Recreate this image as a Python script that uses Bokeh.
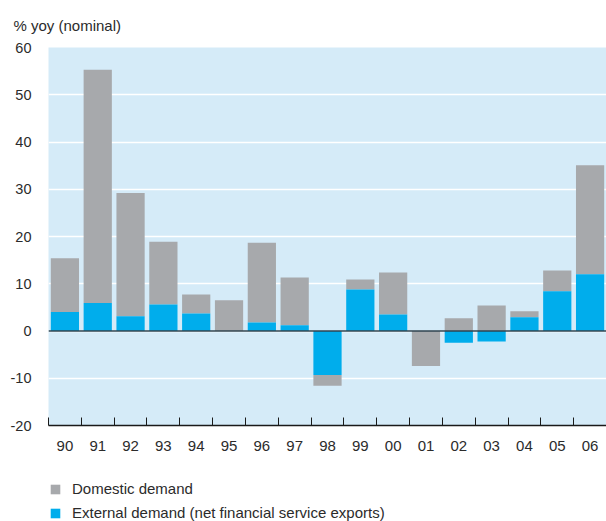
from bokeh.plotting import figure
from bokeh.layouts import column
from bokeh.models import (ColumnDataSource, Range1d, FixedTicker, Span, Legend, LegendItem)
from bokeh.embed import file_html
from bokeh.resources import INLINE

years = ["90", "91", "92", "93", "94", "95", "96", "97", "98", "99",
         "00", "01", "02", "03", "04", "05", "06"]
external = [4.0, 5.9, 3.1, 5.6, 3.7, 0.0, 1.8, 1.2, -9.3, 8.8,
            3.5, 0.0, -2.5, -2.2, 2.9, 8.4, 12.0]
domestic = [11.4, 49.4, 26.1, 13.3, 4.0, 6.5, 16.9, 10.1, -2.3, 2.1,
            8.9, -7.4, 2.7, 5.4, 1.3, 4.4, 23.1]
y_ticks = [-20, -10, 0, 10, 20, 30, 40, 50, 60]
series_names = ["Domestic demand", "External demand (net financial service exports)"]

GRAY = "#a7a9ac"
BLUE = "#00adec"
BG = "#d5ebf8"
TXT = "#2b2b2b"
FONT = "Liberation Sans"

n = len(years)
xs = [i + 0.5 for i in range(n)]
e_bot, e_top, d_bot, d_top = [], [], [], []
for e, d in zip(external, domestic):
    pos, neg = 0.0, 0.0
    e_bot.append(0.0)
    e_top.append(e)
    if e >= 0:
        pos = e
    else:
        neg = e
    if d >= 0:
        d_bot.append(pos)
        d_top.append(pos + d)
    else:
        d_bot.append(neg)
        d_top.append(neg + d)

src = ColumnDataSource(dict(x=xs, eb=e_bot, et=e_top, db=d_bot, dt=d_top))

p = figure(width=606, height=460, output_backend="svg", toolbar_location=None,
           x_range=Range1d(0, n), y_range=Range1d(-20, 60),
           min_border_left=48, min_border_right=0, min_border_top=47,
           min_border_bottom=35)
p.background_fill_color = BG
p.border_fill_color = "white"
p.outline_line_color = None

p.title.text = "% yoy (nominal)"
p.title.text_font = FONT
p.title.text_font_size = "15px"
p.title.text_font_style = "normal"
p.title.text_color = TXT
p.title.align = "left"
p.title.offset = -35
p.title.standoff = 27

# grid
p.xgrid.grid_line_color = None
p.ygrid.ticker = FixedTicker(ticks=y_ticks)
p.ygrid.grid_line_color = "white"
p.ygrid.grid_line_width = 1.6

p.vbar(x="x", bottom="db", top="dt", width=0.86, source=src,
       fill_color=GRAY, line_color=None)
p.vbar(x="x", bottom="eb", top="et", width=0.86, source=src,
       fill_color=BLUE, line_color=None)

p.add_layout(Span(location=0, dimension="width", line_color="#2f4550",
                  line_width=1.5))

# axes
p.yaxis.ticker = FixedTicker(ticks=y_ticks)
p.yaxis.major_label_overrides = {t: str(t) for t in y_ticks}
p.yaxis.axis_line_color = None
p.yaxis.major_tick_line_color = None
p.yaxis.minor_tick_line_color = None
p.yaxis.major_tick_in = 0
p.yaxis.major_tick_out = 0
p.yaxis.major_label_standoff = 17
p.yaxis.major_label_text_font = FONT
p.yaxis.major_label_text_font_size = "14.5px"
p.yaxis.major_label_text_color = TXT

p.xaxis.ticker = FixedTicker(ticks=xs, minor_ticks=list(range(n + 1)))
p.xaxis.major_label_overrides = {x: y for x, y in zip(xs, years)}
p.xaxis.axis_line_color = "#1a1a1a"
p.xaxis.axis_line_width = 1.5
p.xaxis.major_tick_line_color = None
p.xaxis.major_tick_in = 0
p.xaxis.major_tick_out = 0
p.xaxis.minor_tick_line_color = "#1a1a1a"
p.xaxis.minor_tick_line_width = 1
p.xaxis.minor_tick_in = 8
p.xaxis.minor_tick_out = 0
p.xaxis.major_label_standoff = 15
p.xaxis.major_label_text_font = FONT
p.xaxis.major_label_text_font_size = "15px"
p.xaxis.major_label_text_color = TXT

# legend strip below the chart (its renderers are hidden copies of the series)
lg = figure(width=606, height=61, output_backend="svg", toolbar_location=None,
            x_range=Range1d(0, n), y_range=Range1d(-20, 60),
            x_axis_type=None, y_axis_type=None, min_border=0)
lg.outline_line_color = None
lg.xgrid.visible = False
lg.ygrid.visible = False
k_dom = lg.vbar(x="x", bottom="db", top="dt", width=0.86, source=src,
                fill_color=GRAY, line_color=None, visible=False)
k_ext = lg.vbar(x="x", bottom="eb", top="et", width=0.86, source=src,
                fill_color=BLUE, line_color=None, visible=False)

legend = Legend(items=[LegendItem(label=series_names[0], renderers=[k_dom]),
                       LegendItem(label=series_names[1], renderers=[k_ext])],
                location=(1, 0), orientation="vertical")
legend.border_line_color = None
legend.background_fill_alpha = 0
legend.inactive_fill_alpha = 0
legend.margin = 0
legend.padding = 0
legend.glyph_width = 12
legend.glyph_height = 12
legend.label_height = 12
legend.spacing = 7
legend.label_standoff = 11
legend.label_text_font = FONT
legend.label_text_font_size = "15px"
legend.label_text_color = TXT
lg.add_layout(legend, "center")

layout = column(p, lg, spacing=0)
open("out.html", "w").write(file_html(layout, INLINE))
